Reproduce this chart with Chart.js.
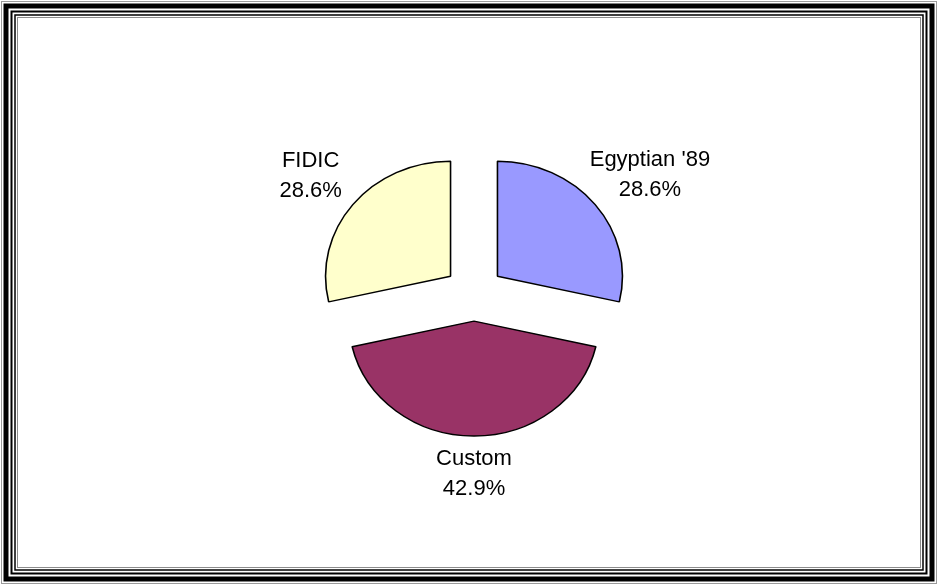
<!DOCTYPE html>
<html>
<head>
<meta charset="utf-8">
<script src="https://cdn.jsdelivr.net/npm/chart.js@4.4.1/dist/chart.umd.min.js"></script>
<style>
  html, body { margin: 0; padding: 0; background: #fff; }
  #wrap { position: relative; width: 938px; height: 585px; }
</style>
</head>
<body>
<div id="wrap"><canvas id="pieChart" width="938" height="585"></canvas></div>
<script>
// dados
const sliceLabels = ["Egyptian '89", 'Custom', 'FIDIC'];
const sliceValues = [28.6, 42.9, 28.6];
const sliceColors = ['#9999FF', '#993366', '#FFFFCC'];

const squashY = 0.92;     // pizza levemente achatada na vertical
const explode = 30;       // afastamento das fatias
// distância do rótulo ao centro (horizontal / vertical)
const labelDistX = [225, 200, 209];
const labelDistY = [190, 180, 188];

function pieCenter(chart) {
    const a = chart.chartArea;
    return { x: (a.left + a.right) / 2, y: (a.top + a.bottom) / 2 };
}

// moldura dupla em volta do gráfico
const framePlugin = {
    id: 'frame',
    beforeDraw(chart) {
        const ctx = chart.ctx;
        const W = chart.width, H = chart.height;
        ctx.save();
        ctx.fillStyle = '#fff';
        ctx.fillRect(0, 0, W, H);
        const lines = [
            { inset: 1.5, width: 1, color: '#9a9a9a' },
            { inset: 6, width: 5, color: '#000' },
            { inset: 11.5, width: 2, color: '#000' },
            { inset: 15, width: 1.5, color: '#000' },
            { inset: 17.5, width: 1, color: '#8c8c8c' }
        ];
        lines.forEach(l => {
            ctx.lineWidth = l.width;
            ctx.strokeStyle = l.color;
            ctx.strokeRect(l.inset, l.inset, W - 2 * l.inset, H - 2 * l.inset);
        });
        ctx.restore();
    }
};

// fatias explodidas: desloca o centro de cada arco
const explodePlugin = {
    id: 'explode',
    afterDatasetUpdate(chart) {
        const c = pieCenter(chart);
        chart.getDatasetMeta(0).data.forEach(arc => {
            const mid = (arc.startAngle + arc.endAngle) / 2;
            arc.x = c.x + Math.cos(mid) * explode;
            arc.y = c.y + Math.sin(mid) * explode;
        });
    }
};

// achata a pizza em torno do centro
const squashPlugin = {
    id: 'squash',
    beforeDatasetsDraw(chart) {
        const c = pieCenter(chart);
        const ctx = chart.ctx;
        ctx.save();
        ctx.translate(0, c.y);
        ctx.scale(1, squashY);
        ctx.translate(0, -c.y);
    },
    afterDatasetsDraw(chart) {
        chart.ctx.restore();
    }
};

// rótulos externos: nome + percentual
const labelPlugin = {
    id: 'outLabels',
    afterDraw(chart) {
        const ctx = chart.ctx;
        const c = pieCenter(chart);
        const meta = chart.getDatasetMeta(0);
        const data = chart.data.datasets[0].data;
        const total = data.reduce((a, b) => a + b, 0);
        ctx.save();
        ctx.font = '22px "Liberation Sans", Arial, sans-serif';
        ctx.fillStyle = '#000';
        ctx.textAlign = 'center';
        ctx.textBaseline = 'middle';
        const lineH = 30;
        meta.data.forEach((arc, i) => {
            const mid = (arc.startAngle + arc.endAngle) / 2;
            const lines = [chart.data.labels[i], (data[i] / total * 100).toFixed(1) + '%'];
            const cx = c.x + Math.cos(mid) * labelDistX[i];
            const cy = c.y + Math.sin(mid) * labelDistY[i];
            lines.forEach((t, k) => {
                ctx.fillText(t, cx, cy + (k - (lines.length - 1) / 2) * lineH);
            });
        });
        ctx.restore();
    }
};

new Chart(document.getElementById('pieChart'), {
    type: 'pie',
    data: {
        labels: sliceLabels,
        datasets: [{
            data: sliceValues,
            backgroundColor: sliceColors,
            borderColor: '#000',
            borderWidth: 1.6,
            hoverOffset: 0
        }]
    },
    options: {
        responsive: false,
        animation: false,
        radius: 125,
        layout: { padding: { left: 10, top: 2, right: 0, bottom: 0 } },
        plugins: {
            legend: { display: false },
            tooltip: { enabled: false }
        }
    },
    plugins: [framePlugin, explodePlugin, squashPlugin, labelPlugin]
});
</script>
</body>
</html>
